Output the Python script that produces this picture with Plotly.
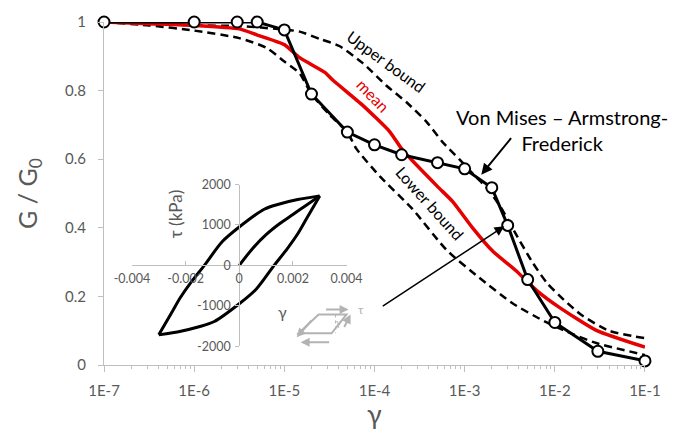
import plotly.graph_objects as go

# ---------------- data ----------------
# Von Mises - Armstrong-Frederick model points
vmaf_strain = [1e-7, 1e-6, 3e-6, 5e-6, 1e-5, 2e-5, 5e-5, 1e-4, 2e-4, 5e-4, 1e-3, 2e-3, 3e-3, 5e-3, 1e-2, 3e-2, 1e-1]
vmaf_ratio = [1.0, 1.0, 1.0, 1.0, 0.977, 0.79, 0.679, 0.642, 0.613, 0.59, 0.572, 0.517, 0.407, 0.249, 0.124, 0.040, 0.012]

# mean curve (log10 strain)
mean_logstrain = [-7, -6.5, -6, -5.5, -5.3, -5.0, -4.83, -4.55, -4.46, -4.13, -3.83, -3.69, -3.3, -3.135, -2.91, -2.69, -2.43, -2.2, -1.95, -1.54, -1.0]
mean_ratio = [1.0, 0.995, 0.99, 0.98, 0.962, 0.934, 0.896, 0.853, 0.83, 0.757, 0.68, 0.627, 0.52, 0.477, 0.399, 0.332, 0.275, 0.217, 0.168, 0.101, 0.052]

# upper bound
upper_logstrain = [-7, -6.5, -6, -5.5, -5.0, -4.83, -4.6, -4.39, -4.13, -3.87, -3.645, -3.42, -3.245, -3.06, -2.9, -2.75, -2.6, -2.45, -2.25, -2.09, -1.9, -1.7, -1.4, -1.0]
upper_ratio = [1.0, 0.995, 0.99, 0.988, 0.978, 0.972, 0.95, 0.93, 0.88, 0.815, 0.766, 0.708, 0.65, 0.60, 0.555, 0.515, 0.46, 0.39, 0.30, 0.24, 0.19, 0.145, 0.10, 0.078]

# lower bound
lower_logstrain = [-7, -6.5, -6, -5.5, -5.2, -5.0, -4.83, -4.7, -4.5, -4.3, -4.2, -3.94, -3.58, -3.2, -2.84, -2.47, -2.09, -1.8, -1.54, -1.0]
lower_ratio = [1.0, 0.99, 0.975, 0.953, 0.925, 0.885, 0.85, 0.79, 0.73, 0.678, 0.63, 0.55, 0.455, 0.335, 0.255, 0.18, 0.124, 0.09, 0.064, 0.029]

# inset hysteresis loop (strain, kPa)
virgin_strain = [0, 0.0005, 0.001, 0.0015, 0.002, 0.0025, 0.003]
virgin_tau = [0, 420, 760, 1030, 1260, 1490, 1720]
unload_strain = [0.003, 0.0025, 0.0022, 0.0018, 0.0013, 0.00063, 0.0, -0.00093, -0.0015, -0.00218, -0.003]
unload_tau = [1720, 1145, 800, 420, 0, -590, -950, -1390, -1520, -1630, -1720]
reload_strain = [-0.003, -0.0025, -0.0022, -0.0018, -0.0013, -0.00063, 0.0, 0.00093, 0.0015, 0.00218, 0.003]
reload_tau = [-1720, -1145, -800, -420, 0, 590, 950, 1390, 1520, 1630, 1720]

x_tickvals = [1e-7, 1e-6, 1e-5, 1e-4, 1e-3, 1e-2, 1e-1]
x_ticktext = ["1E-7", "1E-6", "1E-5", "1E-4", "1E-3", "1E-2", "1E-1"]
x_minorvals = [k * 10.0 ** e for e in range(-7, -1) for k in range(2, 10)]
y_tickvals = [0, 0.2, 0.4, 0.6, 0.8, 1.0]
y_ticktext = ["0", "0.2", "0.4", "0.6", "0.8", "1"]
ix_tickvals = [-0.004, -0.002, 0, 0.002, 0.004]
ix_ticktext = ["-0.004", "-0.002", "0", "0.002", "0.004"]
iy_tickvals = [-2000, -1000, 0, 1000, 2000]
iy_ticktext = ["-2000", "-1000", "0", "1000", "2000"]

# ---------------- layout helpers ----------------
W, H = 673, 438
L, R, T, B = 104, 27, 19, 73
PW, PH = W - L - R, H - T - B


def px(x):
    return (x - L) / PW


def py(y):
    return (H - B - y) / PH


FONT = "Lato, Calibri, Arial, sans-serif"
GRAY = "#595959"
AX = "#bfbfbf"

fig = go.Figure()

fig.add_trace(go.Scatter(x=[10 ** v for v in upper_logstrain], y=upper_ratio, mode="lines",
                         line=dict(color="black", width=2.5, dash="8px,5px", shape="spline", smoothing=0.6),
                         showlegend=False, cliponaxis=False))
fig.add_trace(go.Scatter(x=[10 ** v for v in lower_logstrain], y=lower_ratio, mode="lines",
                         line=dict(color="black", width=2.5, dash="8px,5px", shape="spline", smoothing=0.6),
                         showlegend=False, cliponaxis=False))
fig.add_trace(go.Scatter(x=[10 ** v for v in mean_logstrain], y=mean_ratio, mode="lines",
                         line=dict(color="#e60000", width=3.5, shape="spline", smoothing=0.5),
                         showlegend=False, cliponaxis=False))
fig.add_trace(go.Scatter(x=vmaf_strain, y=vmaf_ratio, mode="lines+markers",
                         line=dict(color="black", width=3),
                         marker=dict(size=11, color="white", line=dict(color="black", width=2)),
                         showlegend=False, cliponaxis=False))

for xs, ys in [(virgin_strain, virgin_tau), (unload_strain, unload_tau), (reload_strain, reload_tau)]:
    fig.add_trace(go.Scatter(x=xs, y=ys, xaxis="x2", yaxis="y2", mode="lines",
                             line=dict(color="black", width=3, shape="spline", smoothing=0.8),
                             showlegend=False, cliponaxis=False))

# inset domain from pixel box
ix_range = [-0.004, 0.004]
iy_range = [-2000, 2000]
ixd = [px(132), px(347)]
iyd = [py(346), py(183)]
ix_pos = iyd[0] + (0 - iy_range[0]) / (iy_range[1] - iy_range[0]) * (iyd[1] - iyd[0])
iy_pos = ixd[0] + (0 - ix_range[0]) / (ix_range[1] - ix_range[0]) * (ixd[1] - ixd[0])

fig.update_layout(
    width=W, height=H, margin=dict(l=L, r=R, t=T, b=B, pad=0),
    paper_bgcolor="white", plot_bgcolor="white",
    font=dict(family=FONT, color=GRAY),
    xaxis=dict(type="log", range=[-7.0002, -0.9998], tickvals=x_tickvals, ticktext=x_ticktext,
               showline=True, linecolor=AX, linewidth=1, ticks="outside", ticklen=6, tickcolor=AX,
               showgrid=False, zeroline=False, tickfont=dict(size=15, color=GRAY), ticklabelstandoff=6,
               minor=dict(tickmode="array", tickvals=x_minorvals, ticks="outside", ticklen=3,
                          tickcolor=AX, showgrid=False)),
    yaxis=dict(range=[0, 1], tickvals=y_tickvals, ticktext=y_ticktext,
               showline=True, linecolor=AX, linewidth=1, ticks="outside", ticklen=5, tickcolor=AX,
               showgrid=False, zeroline=False, tickfont=dict(size=15, color=GRAY), ticklabelstandoff=9,
               title=dict(text="G / G<sub>0</sub>", font=dict(size=25, color=GRAY), standoff=20)),
    xaxis2=dict(domain=ixd, range=ix_range, anchor="free", position=ix_pos,
                tickvals=ix_tickvals, ticktext=ix_ticktext, showline=True, linecolor=AX,
                ticks="inside", ticklen=4, tickcolor=AX, showgrid=False, zeroline=False,
                tickfont=dict(size=12.5, color=GRAY), ticklabelstandoff=2),
    yaxis2=dict(domain=iyd, range=iy_range, anchor="free", position=iy_pos,
                tickvals=iy_tickvals, ticktext=iy_ticktext, showline=True, linecolor=AX,
                ticks="outside", ticklen=4, tickcolor=AX, showgrid=False, zeroline=False,
                tickfont=dict(size=12.5, color=GRAY), ticklabelstandoff=2),
)


def label(x, y, text, size, color, angle=0, align="center"):
    return dict(x=px(x), y=py(y), xref="paper", yref="paper", text=text, showarrow=False,
                textangle=angle, font=dict(size=size, color=color), xanchor="center",
                yanchor="middle", align=align)


def arrow(hx, hy, tx, ty, color, width, size):
    return dict(x=px(hx), y=py(hy), xref="paper", yref="paper", text="", showarrow=True,
                ax=tx - hx, ay=ty - hy, arrowhead=2, arrowsize=size, arrowwidth=width,
                arrowcolor=color, xanchor="center", yanchor="middle")


ann = []
# x axis title
ann.append(label(375, 414, "γ", 27, GRAY))
# curve labels
ann.append(label(387, 59, "Upper bound", 16, "black", 36))
ann.append(label(374, 93, "mean", 16, "#e60000", 46))
ann.append(label(431, 202, "Lower bound", 16, "black", 48))
# model label + arrows
ann.append(label(563, 128, "Von Mises – Armstrong-<br>Frederick", 20, "black"))
ann.append(arrow(482, 173, 513, 135, "black", 2, 1.1))
ann.append(arrow(505, 225, 382, 306, "black", 1.5, 1.3))
# inset titles
ann.append(label(175, 213, "τ (kPa)", 17, GRAY, -90))
ann.append(label(283, 311, "γ", 16, GRAY))
# shear icon labels & arrows
ICON = "#b3b3b3"
ann.append(label(339, 322, "γ", 9, ICON))
ann.append(label(361, 309, "τ", 12, ICON))
for hx, hy, tx, ty in [(349, 309, 325, 309), (301, 342, 331, 342), (297, 337, 313, 319), (351, 314, 344, 328)]:
    ann.append(arrow(hx, hy, tx, ty, ICON, 2, 0.9))
fig.update_layout(annotations=ann)

shapes = []
shapes.append(dict(type="path", xref="paper", yref="paper",
                   path=f"M {px(299)},{py(333)} L {px(332)},{py(333)} L {px(347)},{py(314)} L {px(319)},{py(314)} Z",
                   line=dict(color=ICON, width=2)))
shapes.append(dict(type="line", xref="paper", yref="paper", x0=px(336), y0=py(314), x1=px(336), y1=py(333),
                   line=dict(color=ICON, width=1, dash="dot")))
fig.update_layout(shapes=shapes)

fig.write_html("out.html")
